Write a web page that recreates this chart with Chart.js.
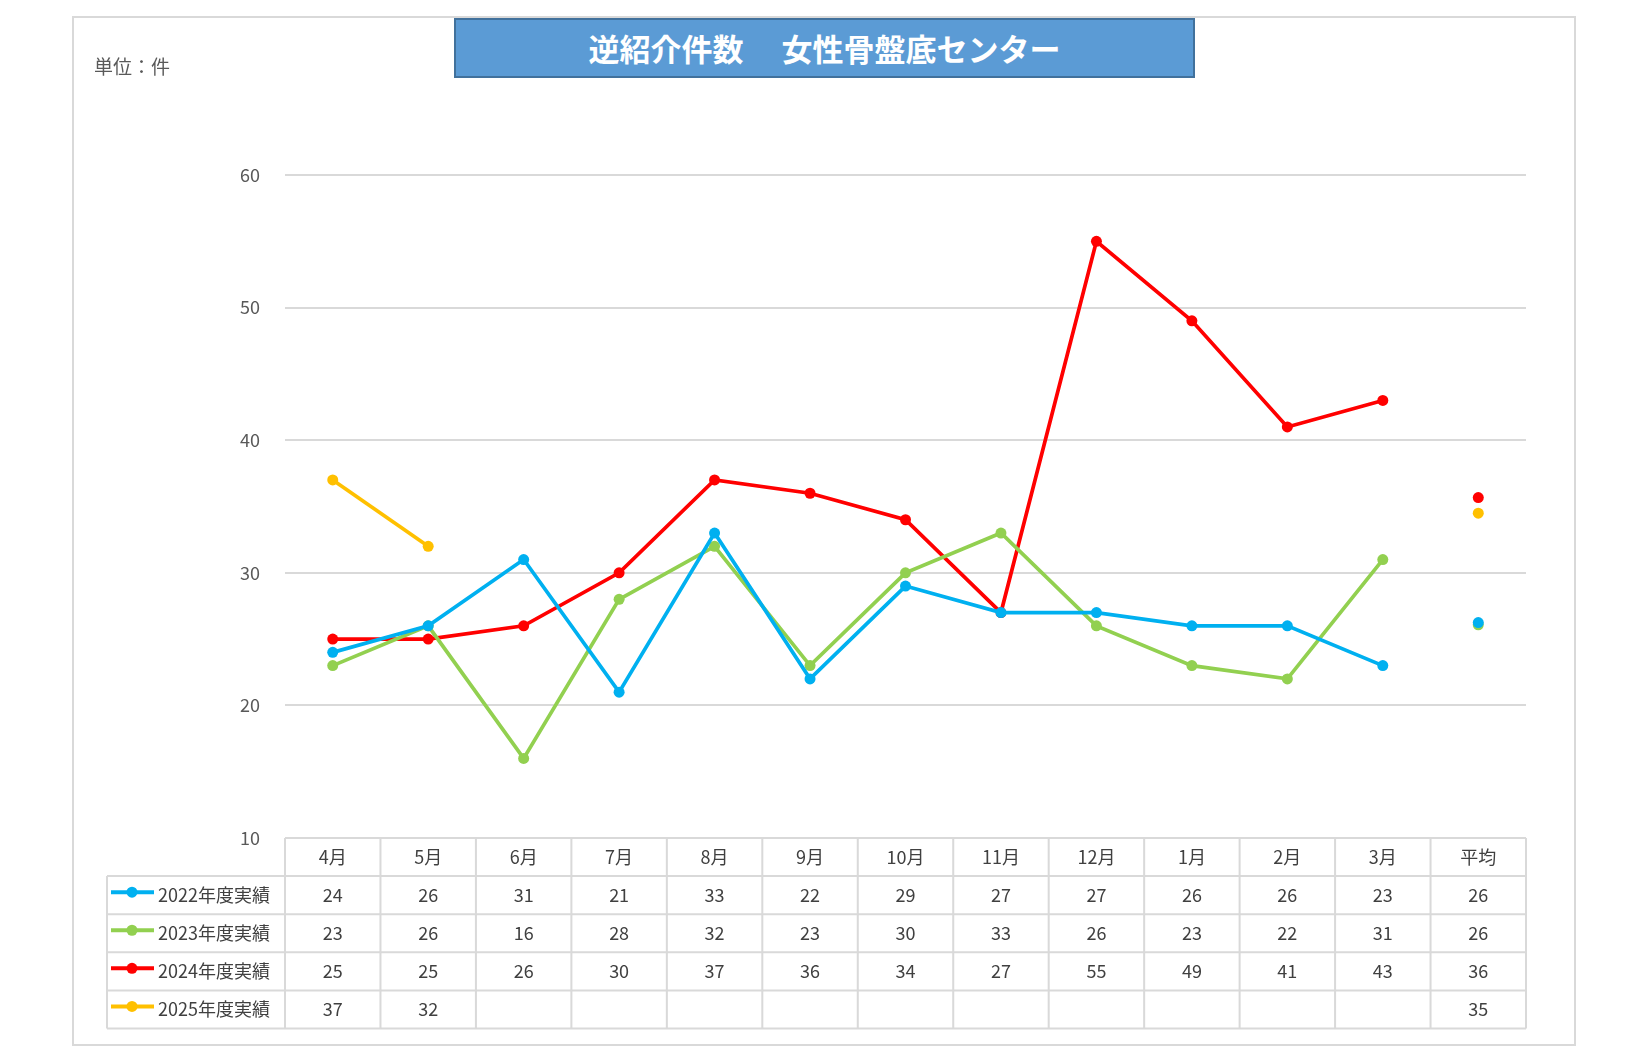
<!DOCTYPE html>
<html>
<head>
<meta charset="utf-8">
<script src="https://cdn.jsdelivr.net/npm/chart.js@4"></script>
<style>
  body { margin: 0; background: #fff; font-family: "Noto Sans CJK JP", sans-serif; }
  #wrap { position: relative; width: 1641px; height: 1062px; }
  #frame { position: absolute; left: 72px; top: 16px; width: 1500px; height: 1026px; border: 2px solid #d9d9d9; }
  #title { position: absolute; left: 454px; top: 18px; width: 737px; height: 56px; background: #5b9bd5;
    border: 2px solid #41719c; color: #fff; font-weight: bold; font-size: 31px; line-height: 56px; text-align: center; }
  #unit { position: absolute; left: 94px; top: 52px; font-size: 19px; color: #595959; }
  canvas { position: absolute; left: 0; top: 0; }
</style>
</head>
<body>
<div id="wrap">
  <div id="frame"></div>
  <canvas id="chart" width="1641" height="1062"></canvas>
  <div id="title">逆紹介件数　 女性骨盤底センター</div>
  <div id="unit">単位：件</div>
</div>
<script>
const months = ['4月', '5月', '6月', '7月', '8月', '9月', '10月', '11月', '12月', '1月', '2月', '3月', '平均'];
const seriesNames = ['2022年度実績', '2023年度実績', '2024年度実績', '2025年度実績'];
const colors = ['#00b0f0', '#92d050', '#ff0000', '#ffc000'];

const fy2022 = [24, 26, 31, 21, 33, 22, 29, 27, 27, 26, 26, 23, 26.25];
const fy2023 = [23, 26, 16, 28, 32, 23, 30, 33, 26, 23, 22, 31, 26.08];
const fy2024 = [25, 25, 26, 30, 37, 36, 34, 27, 55, 49, 41, 43, 35.67];
const fy2025 = [37, 32, null, null, null, null, null, null, null, null, null, null, 34.5];
const allSeries = [fy2022, fy2023, fy2024, fy2025];

const yTicks = [10, 20, 30, 40, 50, 60];

// 表（データテーブル）を描く
const tablePlugin = {
  id: 'dataTable',
  afterDraw(chart) {
    const ctx = chart.ctx;
    const x = chart.scales.x;
    const area = chart.chartArea;
    const top = area.bottom;
    const rowH = 38.1;
    const left = 107;
    const step = (area.right - area.left) / months.length;
    ctx.save();
    ctx.strokeStyle = '#d9d9d9';
    ctx.lineWidth = 2;
    // 横線
    for (let r = 0; r <= 5; r++) {
      const y = top + r * rowH;
      ctx.beginPath();
      ctx.moveTo(r === 0 ? area.left : left, y);
      ctx.lineTo(area.right, y);
      ctx.stroke();
    }
    // 縦線
    ctx.beginPath();
    ctx.moveTo(left, top + rowH); ctx.lineTo(left, top + 5 * rowH);
    for (let i = 0; i <= months.length; i++) {
      const vx = area.left + i * step;
      ctx.moveTo(vx, top); ctx.lineTo(vx, top + 5 * rowH);
    }
    ctx.stroke();

    ctx.font = '18px "Noto Sans CJK JP"';
    ctx.fillStyle = '#404040';
    ctx.textAlign = 'center';
    ctx.textBaseline = 'middle';
    months.forEach((m, i) => {
      ctx.fillText(m, x.getPixelForValue(i), top + rowH / 2);
    });
    allSeries.forEach((data, s) => {
      const cy = top + rowH * (s + 1.5);
      data.forEach((v, i) => {
        if (v === null) return;
        ctx.fillStyle = '#404040';
        ctx.fillText(String(Math.round(v)), x.getPixelForValue(i), cy);
      });
      // 凡例
      ctx.strokeStyle = colors[s];
      ctx.lineWidth = 4;
      ctx.beginPath(); ctx.moveTo(111, cy - 3); ctx.lineTo(154, cy - 3); ctx.stroke();
      ctx.fillStyle = colors[s];
      ctx.beginPath(); ctx.arc(132, cy - 3, 5.5, 0, Math.PI * 2); ctx.fill();
      ctx.fillStyle = '#404040';
      ctx.textAlign = 'left';
      ctx.fillText(seriesNames[s], 158, cy);
      ctx.textAlign = 'center';
    });
    ctx.restore();
  }
};

new Chart(document.getElementById('chart'), {
  type: 'line',
  data: {
    labels: months,
    datasets: allSeries.map((data, s) => ({
      label: seriesNames[s],
      data: data,
      borderColor: colors[s],
      backgroundColor: colors[s],
      borderWidth: 3.7,
      pointRadius: 5.5,
      pointBorderWidth: 0,
      tension: 0,
      spanGaps: false,
      segment: {
        borderColor: c => c.p1DataIndex === 12 ? 'transparent' : colors[s]
      }
    }))
  },
  options: {
    responsive: false,
    animation: false,
    devicePixelRatio: 1,
    layout: { padding: { left: 0, top: 175, right: 115, bottom: 224 } },
    plugins: { legend: { display: false }, tooltip: { enabled: false } },
    scales: {
      x: { display: false, offset: true },
      y: {
        min: 10, max: 60,
        afterBuildTicks: s => { s.ticks = yTicks.map(v => ({ value: v })); },
        afterFit: s => { s.width = 285; },
        border: { display: false },
        grid: { color: '#d9d9d9', lineWidth: 2, drawTicks: false },
        ticks: { color: '#595959', padding: 25, font: { size: 18, family: 'Noto Sans CJK JP' } }
      }
    }
  },
  plugins: [tablePlugin]
});
</script>
</body>
</html>
